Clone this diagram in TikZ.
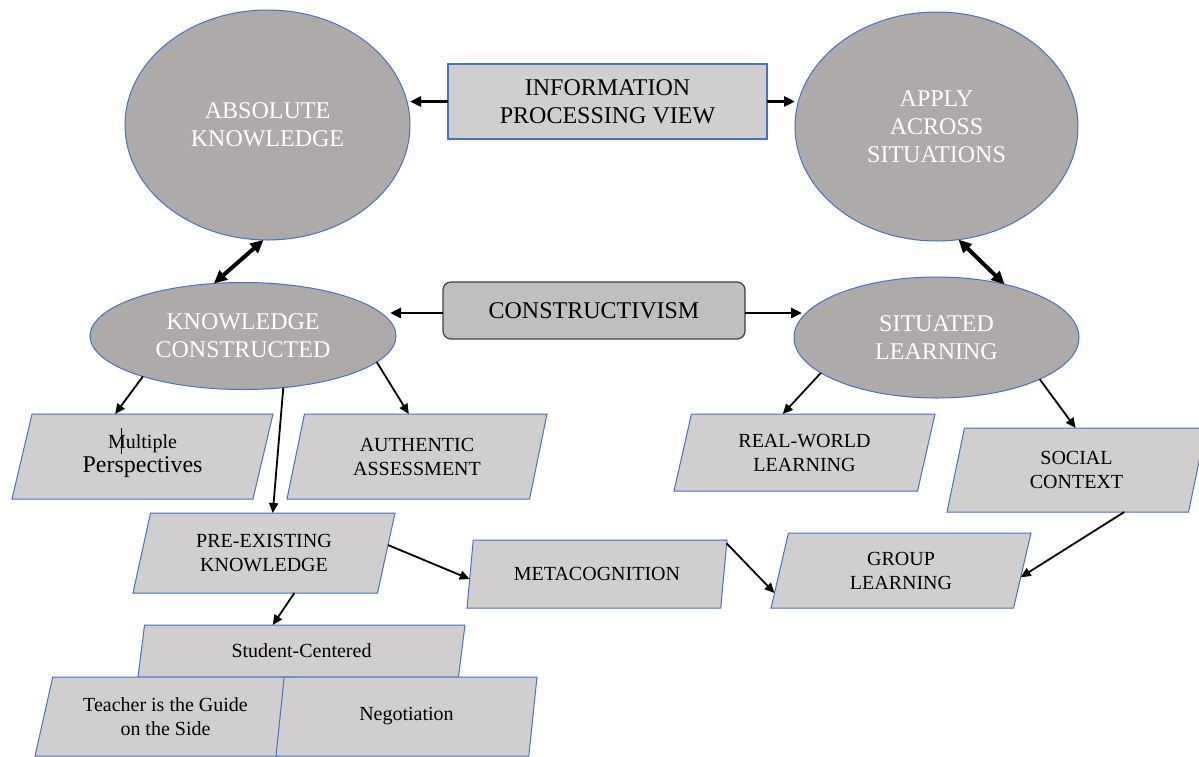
\documentclass[tikz,border=0pt]{standalone}
\usepackage{fontspec}
\setmainfont{Liberation Serif}
\usetikzlibrary{shapes.geometric,arrows.meta,calc}
\definecolor{ellfill}{HTML}{AEAAAA}
\definecolor{boxfill}{HTML}{D0CECE}
\definecolor{edgeblue}{HTML}{4472C4}
\definecolor{consfill}{HTML}{BFBFBF}
\definecolor{consedge}{HTML}{404040}
\begin{document}
\begin{tikzpicture}[x=1pt,y=-1pt,
  ell/.style={ellipse, draw=edgeblue, line width=1pt, fill=ellfill, text=white, inner sep=0pt, outer sep=0pt, align=center, font=\rmfamily\fontsize{24}{28}\selectfont},
  para/.style={trapezium, trapezium left angle=65, trapezium right angle=115, trapezium stretches body=true, draw=edgeblue, line width=1pt, fill=boxfill, inner sep=0pt, outer sep=0pt, align=center, font=\rmfamily\fontsize{20}{24}\selectfont},
  conn/.style={line width=1.8pt, -{Triangle[length=10pt,width=9pt]}},
  hconn/.style={line width=2.8pt, -{Triangle[length=11pt,width=10pt]}},
  dconn/.style={line width=4pt, {Triangle[length=13pt,width=12pt]}-{Triangle[length=13pt,width=12pt]}},
]
\fill[white] (0,0) rectangle (1199,756);
\useasboundingbox (0,0) rectangle (1199,756);

% ellipses
\node[ell, minimum width=285, minimum height=230] (abs) at (267.5,125) {ABSOLUTE\\KNOWLEDGE};
\node[ell, minimum width=283, minimum height=229] (apply) at (936.5,126.5) {APPLY\\ACROSS\\SITUATIONS};
\node[ell, minimum width=306, minimum height=107] (kc) at (243,336) {KNOWLEDGE\\CONSTRUCTED};
\node[ell, minimum width=285, minimum height=121] (sl) at (936.5,337.5) {SITUATED\\LEARNING};

% rectangles
\node[draw=edgeblue, line width=1.5pt, fill=boxfill, minimum width=319, minimum height=75, inner sep=0pt, outer sep=0pt, align=center, font=\rmfamily\fontsize{24}{28}\selectfont] (ipv) at (607.5,101.5) {INFORMATION\\PROCESSING VIEW};
\node[draw=consedge, line width=1.2pt, fill=consfill, rounded corners=8pt, minimum width=302, minimum height=57, inner sep=0pt, outer sep=0pt, font=\rmfamily\fontsize{24}{28}\selectfont] (cons) at (594,310.5) {CONSTRUCTIVISM};

% parallelograms
\node[para, minimum width=261, minimum height=85] (mp) at (142.5,456.5) {Multiple\\\fontsize{24}{25}\selectfont Perspectives};
\node[para, minimum width=260, minimum height=85] (aa) at (417,456.5) {AUTHENTIC\\ASSESSMENT};
\node[para, minimum width=262, minimum height=80] (pre) at (264,553) {PRE-EXISTING\\KNOWLEDGE};
\node[para, minimum width=260, minimum height=68] (meta) at (597,574) {METACOGNITION};
\node[para, minimum width=260, minimum height=75] (grp) at (901,570.5) {GROUP\\LEARNING};
\node[para, minimum width=261, minimum height=77] (rw) at (804.5,452.5) {REAL-WORLD\\LEARNING};
\node[para, minimum width=259, minimum height=84] (sc) at (1076.5,470) {SOCIAL\\CONTEXT};
\node[para, minimum width=327, minimum height=52] (stc) at (301.5,651) {Student-Centered};
\node[para, minimum width=261, minimum height=79] (tch) at (165.5,716.5) {Teacher is the Guide\\on the Side};
\node[para, minimum width=261, minimum height=79] (neg) at (406.5,716.5) {Negotiation};

% text cursor mark
\draw[line width=0.7pt] ($(mp.center)+(-21,-28.5)$) -- ($(mp.center)+(-21,-2.5)$);

% connectors
\draw[hconn] (ipv.west) -- (abs.east |- ipv.west);
\draw[hconn] (ipv.east) -- (apply.west |- ipv.east);
\draw[dconn] (abs.268) -- (kc.119);
\draw[dconn] (apply.281) -- (sl.38);
\draw[hconn] ($(cons.west)+(0,2.5)$) -- ($(kc.east |- cons.west)+(-6,2.5)$);
\draw[hconn] ($(cons.east)+(0,2.5)$) -- ($(sl.west |- cons.east)+(8,2.5)$);
\draw[conn] (kc.202) -- ($(mp.top left corner)!0.345!(mp.top right corner)$);
\draw[conn] (kc.308) -- (pre.top side);
\draw[conn] (kc.349) -- ($(aa.top left corner)!0.43!(aa.top right corner)$);
\draw[conn] (sl.197) -- ($(rw.top left corner)!0.375!(rw.top right corner)$);
\draw[conn] (sl.338) -- ($(sc.top left corner)!0.46!(sc.top right corner)$);
\draw[conn] ($(sc.bottom left corner)!0.734!(sc.bottom right corner)$) -- ($(grp.bottom right corner)!0.41!(grp.top right corner)$);
\draw[conn] ($(pre.bottom right corner)!0.6!(pre.top right corner)$) -- ($(meta.bottom left corner)!0.426!(meta.top left corner)$);
\draw[conn] ($(meta.bottom right corner)!0.95!(meta.top right corner)$) -- ($(grp.bottom left corner)!0.2!(grp.top left corner)$);
\draw[conn] ($(pre.bottom left corner)!0.66!(pre.bottom right corner)$) -- ($(stc.top left corner)!0.4!(stc.top right corner)$);
\end{tikzpicture}
\end{document}
